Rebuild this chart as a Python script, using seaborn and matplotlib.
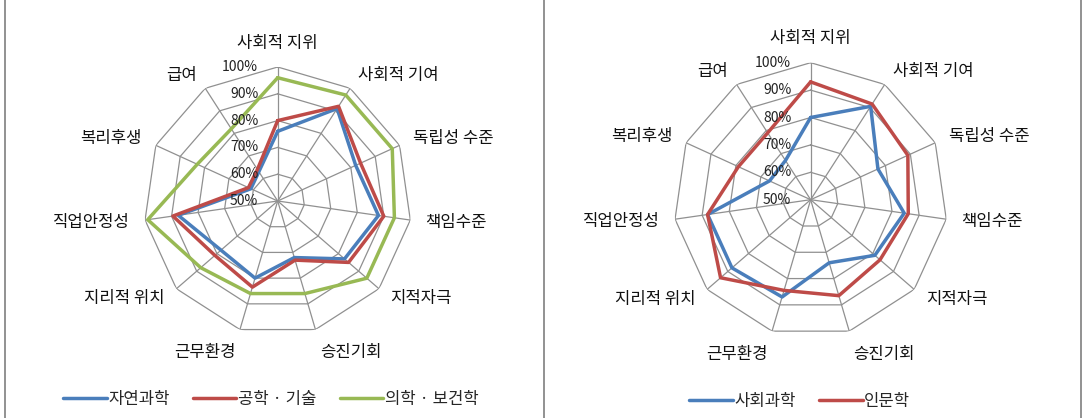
import numpy as np
import pandas as pd
import matplotlib
matplotlib.use('Agg')
import matplotlib.pyplot as plt
import seaborn as sns
from matplotlib.lines import Line2D

# ------------------------------------------------------------ #
# data (% scale 50-100)
# ------------------------------------------------------------ #

categories = ['사회적 지위', '사회적 기여', '독립성 수준', '책임수준', '지적자극', '승진기회',
              '근무환경', '지리적 위치', '직업안정성', '복리후생', '급여']
tick_values = [50, 60, 70, 80, 90, 100]
tick_labels = ['50%', '60%', '70%', '80%', '90%', '100%']

left_names = ['자연과학', '공학 · 기술', '의학 · 보건학']
natural = [76, 91, 82, 88, 83, 72, 80, 78, 87.5, 61, 63]
engineering = [80, 92, 84, 90, 85, 73, 83.5, 81, 89.5, 62, 64]
medical = [96, 97, 97, 94, 94, 86, 86, 88, 99, 83, 82]

right_names = ['사회과학', '인문학']
social = [80, 90.5, 77, 84.5, 81, 74, 87, 88, 88, 66.5, 67]
humanities = [93, 91.5, 89, 86, 83.5, 86.5, 84.5, 93.5, 88, 79, 79]

blue = '#4a7ebb'
red = '#be4b48'
green = '#98b954'
grid_color = '#909090'

sns.set_style('white')
plt.rcParams['font.family'] = ['Noto Sans CJK KR', 'DejaVu Sans']

n = len(categories)
angles = np.linspace(0, 2 * np.pi, n, endpoint=False)
angles_closed = np.append(angles, 2 * np.pi)


def long_form(names, series):
    rows = []
    for name, vals in zip(names, series):
        closed = list(vals) + [vals[0]]
        for t, v in zip(angles_closed, closed):
            rows.append({'theta': t, 'value': v, 'series': name})
    return pd.DataFrame(rows)


def radar(ax, names, series, colors, legend_xy):
    ax.set_theta_offset(np.pi / 2)
    ax.set_theta_direction(-1)
    ax.set_ylim(50, 100)
    ax.grid(False)
    ax.spines['polar'].set_visible(False)
    ax.set_xticks([])
    ax.set_yticks([])
    ax.set_facecolor('white')

    # polygon web
    for v in tick_values[1:]:
        ax.plot(angles_closed, [v] * (n + 1), color=grid_color, lw=0.9, zorder=1)
    for t in angles:
        ax.plot([t, t], [50, 100], color=grid_color, lw=0.9, zorder=1)

    df = long_form(names, series)
    sns.lineplot(data=df, x='theta', y='value', hue='series', palette=colors,
                 sort=False, estimator=None, linewidth=2.5, ax=ax, zorder=3)
    ax.set_xlabel('')
    ax.set_ylabel('')

    # percent labels along the top spoke
    for v, lab in zip(tick_values, tick_labels):
        ax.annotate(lab, xy=(0, v), xytext=(-14, 0), textcoords='offset points',
                    ha='right', va='center', fontsize=10, color='#222222')

    # category labels
    for t, lab in zip(angles, categories):
        s, c = np.sin(t), np.cos(t)
        if s > 0.1:
            ha = 'left'
        elif s < -0.1:
            ha = 'right'
        else:
            ha = 'center'
        va = 'center'
        if c > 0.95:
            va = 'bottom'
        elif c < -0.95:
            va = 'top'
        ax.annotate(lab, xy=(t, 100), xytext=(11 * s, 11 * c), textcoords='offset points',
                    ha=ha, va=va, fontsize=12, color='#111111')

    sns.move_legend(ax, 'center', bbox_to_anchor=legend_xy, bbox_transform=ax.figure.transFigure,
                    ncol=len(names), frameon=False, title=None, fontsize=12,
                    handlelength=2.6, handletextpad=0.1, columnspacing=1.4)
    for line in ax.get_legend().get_lines():
        line.set_linewidth(2.5)


fig = plt.figure(figsize=(10.86, 4.18), dpi=100)
fig.patch.set_facecolor('white')

ax1 = fig.add_axes([0.1323, 0.1986, 0.2468, 0.6411], projection='polar')
radar(ax1, left_names, [natural, engineering, medical], [blue, red, green], (0.2495, 0.044))

ax2 = fig.add_axes([0.6203, 0.1945, 0.2523, 0.6555], projection='polar')
radar(ax2, right_names, [social, humanities], [blue, red], (0.7366, 0.039))

# panel borders
for x in [5 / 1086, 544 / 1086, 1081 / 1086]:
    fig.add_artist(Line2D([x, x], [0, 1], transform=fig.transFigure, color='#7f7f7f', lw=1.2))

fig.savefig('out.png', dpi=100, facecolor='white')
